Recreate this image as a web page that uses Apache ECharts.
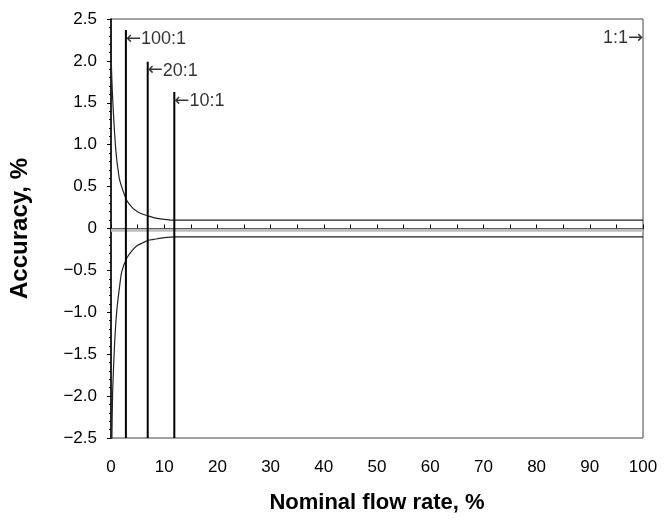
<!DOCTYPE html>
<html>
<head>
	<meta charset="utf-8">
	<title>Accuracy vs nominal flow rate</title>
	<script src="https://cdn.jsdelivr.net/npm/echarts@6/dist/echarts.min.js"></script>
	<style>
		html, body { margin: 0; padding: 0; background: #fff; }
		#chart { width: 669px; height: 520px; }
	</style>
</head>
<body>
	<div id="chart"></div>
	<script>
		// upper / lower accuracy limit curves
		var upperX = [0.02, 0.06, 0.8, 1.5, 2, 3, 4, 5, 6, 7, 8, 10, 12, 100];
		var upperY = [2.6, 2.0, 1.02, 0.62, 0.5, 0.33, 0.25, 0.2, 0.17, 0.15, 0.13, 0.11, 0.1, 0.1];
		var lowerX = [0.15, 0.3, 0.68, 1.1, 1.6, 2, 3, 4, 5, 6, 7, 8, 10, 12, 100];
		var lowerY = [-2.6, -1.96, -1.37, -0.97, -0.7, -0.52, -0.35, -0.26, -0.2, -0.17, -0.14, -0.13, -0.11, -0.1, -0.1];
		var zeroY = -0.02;

		// turndown ratio markers
		var ratioNames = ['100:1', '20:1', '10:1'];
		var ratioX = [2.8, 6.9, 11.9];
		var ratioTop = [2.37, 1.99, 1.63];
		var fullName = '1:1';
		var fullX = 100;
		var fullTop = 2.37;

		var xTicks = [0, 10, 20, 30, 40, 50, 60, 70, 80, 90, 100];
		var yMin = -2.5, yMax = 2.5, yStep = 0.5;

		function pairs(xs, ys) {
			var out = [];
			for (var i = 0; i < xs.length; i++) out.push([xs[i], ys[i]]);
			return out;
		}

		var font = 'Liberation Sans, Arial, sans-serif';
		var arrowStyle = { fontFamily: 'DejaVu Sans', fontSize: 18, color: '#000' };
		var series = [];

		series.push({
			type: 'line', data: [[xTicks[0], zeroY], [xTicks[xTicks.length - 1], zeroY]],
			symbol: 'none', lineStyle: { color: '#bdbdbd', width: 3 }, silent: true, z: 2
		});
		series.push({
			type: 'line', data: pairs(upperX, upperY), symbol: 'none', smooth: 0.2,
			lineStyle: { color: '#222', width: 1.2 }, z: 3
		});
		series.push({
			type: 'line', data: pairs(lowerX, lowerY), symbol: 'none', smooth: 0.2,
			lineStyle: { color: '#222', width: 1.2 }, z: 3
		});

		for (var i = 0; i < ratioNames.length; i++) {
			series.push({
				type: 'line', data: [[ratioX[i], yMin], [ratioX[i], ratioTop[i]]],
				symbol: 'none', lineStyle: { color: '#000', width: 2 }, z: 4
			});
			series.push({
				type: 'scatter', data: [[ratioX[i], ratioTop[i]]], symbolSize: 0, z: 5,
				label: {
					show: true, position: 'right', distance: 0, offset: [0, 9],
					formatter: '{a|\u2190}' + ratioNames[i],
					color: '#000', fontSize: 18, fontFamily: font,
					rich: { a: arrowStyle }
				}
			});
		}
		series.push({
			type: 'scatter', data: [[fullX, fullTop]], symbolSize: 0, z: 5,
			label: {
				show: true, position: 'left', distance: 0, offset: [0, 8],
				formatter: fullName + '{a|\u2192}',
				color: '#000', fontSize: 18, fontFamily: font,
				rich: { a: arrowStyle }
			}
		});

		var chart = echarts.init(document.getElementById('chart'));
		chart.setOption({
			animation: false,
			backgroundColor: '#fff',
			grid: {
				left: 111, right: 26, top: 19, bottom: 82,
				show: true, borderColor: '#444', borderWidth: 1
			},
			xAxis: {
				type: 'value', min: xTicks[0], max: xTicks[xTicks.length - 1], interval: 10,
				name: 'Nominal flow rate, %', nameLocation: 'middle', nameGap: 54,
				nameTextStyle: { fontSize: 22, fontWeight: 'bold', color: '#000', fontFamily: font },
				axisLine: { lineStyle: { color: '#000', width: 1.5 } },
				axisTick: { inside: true, length: 4, lineStyle: { color: '#000' } },
				minorTick: { show: true, splitNumber: 2, length: 4, lineStyle: { color: '#000' } },
				splitLine: { show: false },
				axisLabel: { margin: 21, fontSize: 17, color: '#000', fontFamily: font }
			},
			yAxis: {
				type: 'value', min: yMin, max: yMax, interval: yStep,
				name: 'Accuracy, %', nameLocation: 'middle', nameGap: 79,
				nameTextStyle: { fontSize: 24, fontWeight: 'bold', color: '#000', fontFamily: font },
				axisLine: { lineStyle: { color: '#000', width: 1.5 } },
				axisTick: { length: 4, lineStyle: { color: '#000' } },
				minorTick: { show: true, splitNumber: 5, length: 2, lineStyle: { color: '#000' } },
				splitLine: { show: false },
				axisLabel: {
					margin: 14, fontSize: 17, color: '#000', fontFamily: font,
					formatter: function (v) {
						if (Math.abs(v) < 1e-9) return '0';
						return v.toFixed(1).replace('-', '\u2212');
					}
				}
			},
			series: series
		});
	</script>
</body>
</html>
